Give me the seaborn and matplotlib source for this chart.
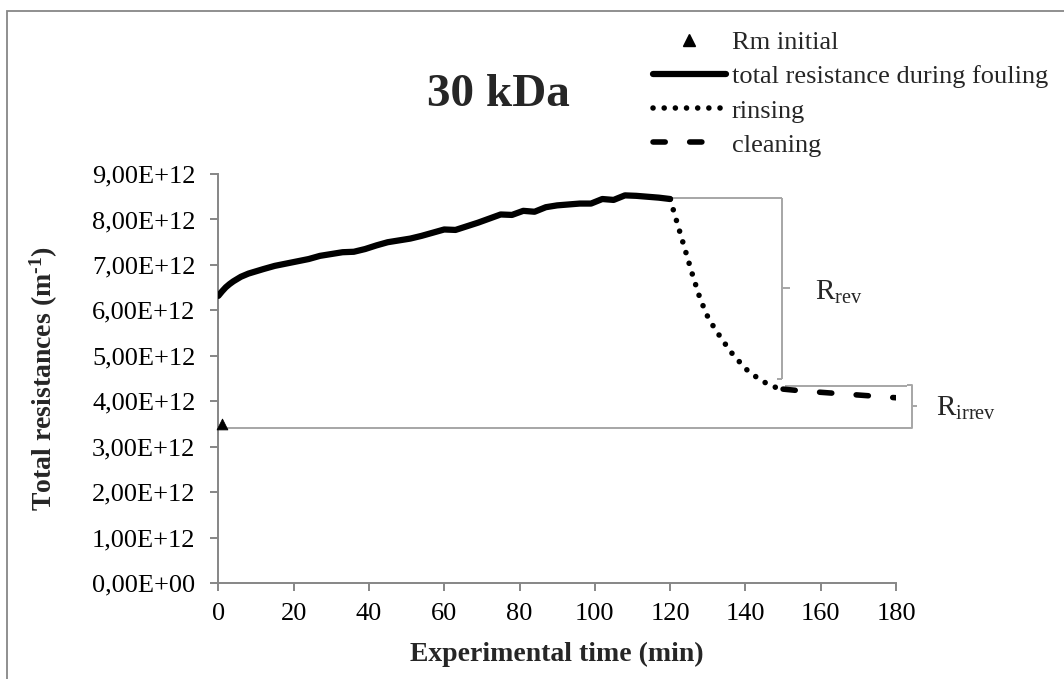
import numpy as np
import pandas as pd
import matplotlib
matplotlib.use("Agg")
import matplotlib.pyplot as plt
import seaborn as sns
from matplotlib.ticker import FuncFormatter
from matplotlib.lines import Line2D
from matplotlib.patches import Rectangle

# ---------------- data (resistance in units of 1e12 m^-1) ----------------
fouling_time = [0, 1, 2, 3, 4, 6, 8, 10, 12, 15, 18, 21, 24, 27, 30, 33, 36, 39,
                42, 45, 48, 51, 54, 57, 60, 63, 66, 69, 72, 75, 78, 81, 84, 87,
                90, 93, 96, 99, 102, 105, 108, 111, 114, 117, 120]
fouling_r = [6.32, 6.42, 6.51, 6.58, 6.64, 6.74, 6.81, 6.86, 6.91, 6.98, 7.03,
             7.08, 7.13, 7.20, 7.24, 7.28, 7.29, 7.35, 7.43, 7.50, 7.54, 7.58,
             7.64, 7.71, 7.78, 7.77, 7.85, 7.93, 8.02, 8.11, 8.10, 8.19, 8.17,
             8.27, 8.31, 8.33, 8.35, 8.35, 8.45, 8.43, 8.53, 8.52, 8.50, 8.48,
             8.45]

rinsing_time = [120, 122, 124, 126, 128, 130, 132, 134, 136, 138, 140, 142,
                144, 146, 148, 150]
rinsing_r = [8.45, 7.89, 7.33, 6.77, 6.25, 5.86, 5.58, 5.34, 5.10, 4.91, 4.72,
             4.59, 4.47, 4.38, 4.31, 4.27]

cleaning_time = [150, 155, 160, 165, 170, 175, 180]
cleaning_r = [4.27, 4.23, 4.20, 4.17, 4.14, 4.11, 4.08]

rm_time = [1]
rm_r = [3.50]

# bracket annotation levels (1e12 m^-1)
level_top = 8.48
level_mid = 4.34
level_low = 3.42
rev_span = (4.50, 8.48)
irrev_span = (3.42, 4.36)

legend_labels = ["Rm initial", "total resistance during fouling", "rinsing", "cleaning"]
x_ticks = list(range(0, 181, 20))
y_ticks = [i * 1e12 for i in range(0, 10)]

SCALE = 1e12

# ---------------- style ----------------
sns.set_theme(style="white")
plt.rcParams["font.family"] = ["Liberation Serif", "DejaVu Serif"]
plt.rcParams["mathtext.fontset"] = "custom"
plt.rcParams["mathtext.rm"] = "Liberation Serif"
plt.rcParams["mathtext.it"] = "Liberation Serif:italic"
plt.rcParams["mathtext.bf"] = "Liberation Serif:bold"

W, H = 1064, 679
fig = plt.figure(figsize=(W / 100, H / 100), dpi=100)
fig.patch.set_facecolor("white")

# outer frame
fig.patches.append(Rectangle((7 / W, -0.2), 1.5, 1.2 - 11 / H,
                             transform=fig.transFigure, fill=False,
                             edgecolor="#878787", lw=1.3))

ax_l, ax_r, ax_b, ax_t = 218.3, 896.0, 583.3, 174.0
ax = fig.add_axes([ax_l / W, 1 - ax_b / H, (ax_r - ax_l) / W, (ax_b - ax_t) / H])
ax.set_facecolor("none")

fouling_df = pd.DataFrame({"time": fouling_time, "R": np.array(fouling_r) * SCALE})
rinsing_df = pd.DataFrame({"time": rinsing_time, "R": np.array(rinsing_r) * SCALE})
cleaning_df = pd.DataFrame({"time": cleaning_time, "R": np.array(cleaning_r) * SCALE})
rm_df = pd.DataFrame({"time": rm_time, "R": np.array(rm_r) * SCALE})

gray_b = "#A6A6A6"

# brackets / reference lines
def bl(xs, ys):
    ax.plot(xs, np.array(ys) * SCALE, color=gray_b, lw=1.4, clip_on=False,
            zorder=1, solid_capstyle="butt")

bx1 = 149.6
bl([120.5, bx1], [level_top, level_top])
bl([bx1, bx1], [rev_span[1], rev_span[0]])
bl([bx1 - 1.2, bx1], [rev_span[0], rev_span[0]])
mid1 = (rev_span[0] + rev_span[1]) / 2
bl([bx1, bx1 + 2.2], [mid1, mid1])

bx2 = 184.2
bl([150.5, 182.8], [level_mid, level_mid])
bl([0, 182.8], [level_low, level_low])
bl([bx2 - 1.2, bx2, bx2, bx2 - 1.2],
   [irrev_span[1], irrev_span[1], irrev_span[0], irrev_span[0]])
mid2 = (irrev_span[0] + irrev_span[1]) / 2
bl([bx2, bx2 + 1.3], [mid2, mid2])

sns.lineplot(data=fouling_df, x="time", y="R", ax=ax, color="black", lw=4.5,
             solid_capstyle="round", legend=False, zorder=3)
sns.lineplot(data=rinsing_df, x="time", y="R", ax=ax, color="black", lw=4.0,
             linestyle=(0, (0.01, 2.0)), dash_capstyle="round", legend=False,
             zorder=3)
sns.lineplot(data=cleaning_df, x="time", y="R", ax=ax, color="black", lw=4.0,
             linestyle=(0, (2.2, 4.4)), dash_capstyle="round", legend=False,
             zorder=3)
sns.scatterplot(data=rm_df, x="time", y="R", ax=ax, marker="^", s=60,
                color="black", edgecolor="black", legend=False, zorder=4,
                clip_on=False)

# axes
ax.set_xlim(0, 180)
ax.set_ylim(0, 9e12)
ax.set_xticks(x_ticks)
ax.set_yticks(y_ticks)
ax.yaxis.set_major_formatter(FuncFormatter(lambda v, p: f"{v:.2E}".replace(".", ",")))
for s in ["top", "right"]:
    ax.spines[s].set_visible(False)
for s in ["left", "bottom"]:
    ax.spines[s].set_color("#868686")
    ax.spines[s].set_linewidth(1.4)
ax.tick_params(axis="both", which="major", bottom=True, left=True,
               direction="out", length=6, width=1.4, color="#868686",
               labelsize=19, labelcolor="black")
ax.tick_params(axis="y", pad=10.5)
ax.tick_params(axis="x", pad=8)
ax.set_xlabel("Experimental time (min)", fontsize=20, fontweight="bold",
              labelpad=12)
ax.set_ylabel("Total resistances (m$^{\\mathbf{\u2010}\\mathbf{1}}$)", fontsize=20,
              fontweight="bold", labelpad=23)
ax.grid(False)

# title
fig.text(498 / W, 1 - 106 / H, "30 kDa", fontsize=34, fontweight="bold",
         ha="center", va="baseline")

# R labels
ax.text(158.5, 6.40 * SCALE, r"R$_{\mathrm{rev}}$", fontsize=21,
        ha="left", va="center", clip_on=False)
ax.text(190.6, 3.85 * SCALE, r"R$_{\mathrm{irrev}}$", fontsize=21,
        ha="left", va="center", clip_on=False)

# legend
handles = [
    Line2D([], [], color="black", marker="^", linestyle="none", markersize=8),
    Line2D([], [], color="black", lw=4.5, solid_capstyle="round"),
    Line2D([], [], color="black", lw=4.0, linestyle=(0, (0.01, 2.0)),
           dash_capstyle="round"),
    Line2D([], [], color="black", lw=4.0, linestyle=(0, (2.2, 4.4)),
           dash_capstyle="round"),
]
fig.legend(handles, legend_labels, loc="upper left",
           bbox_to_anchor=(653 / W, 1 - 31 / H), bbox_transform=fig.transFigure,
           frameon=False, fontsize=19, handlelength=2.75, handletextpad=0.23,
           labelspacing=0.40, borderpad=0, borderaxespad=0)

fig.savefig("out.png", dpi=100)
